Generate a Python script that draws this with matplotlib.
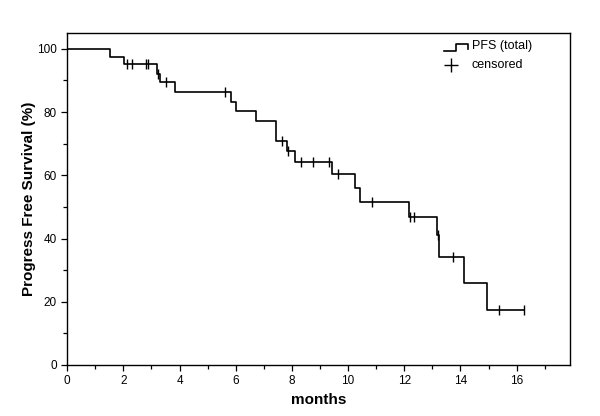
import numpy as np
import matplotlib.pyplot as plt
from matplotlib.ticker import MultipleLocator

plt.rcParams['font.family'] = ['Liberation Sans', 'DejaVu Sans']

# tiempos de evento (meses) y supervivencia despues del evento (%)
tiempos = [0, 1.53, 2.03, 3.21, 3.31, 3.83, 5.83, 6.01, 6.73, 7.43, 7.83, 8.12,
           9.43, 10.25, 10.43, 12.16, 13.16, 13.24, 14.14, 14.96]
supervivencia = [100, 97.4, 95.1, 92.0, 89.4, 86.4, 83.3, 80.2, 77.1, 70.9, 67.8, 64.3,
                 60.3, 56.1, 51.7, 46.9, 41.2, 34.3, 25.9, 17.4]
fin = 16.27

# censurados
censurados = [2.12, 2.30, 2.82, 2.89, 3.24, 3.52, 5.63, 7.63, 7.87, 8.33, 8.74, 9.33,
              9.63, 10.85, 12.19, 12.34, 13.19, 13.75, 15.36, 16.27]

t = np.array(tiempos + [fin])
s = np.array(supervivencia + [supervivencia[-1]])
idx = np.searchsorted(np.array(tiempos), censurados, side='right') - 1
s_cens = np.array(supervivencia)[idx]

fig = plt.figure(figsize=(6, 4.16), dpi=100)
ax = fig.add_axes([0.112, 0.1226, 0.838, 0.798])

ax.step(t, s, where='post', color='black', lw=1.2)
ax.plot(censurados, s_cens, ls='none', marker='|', ms=7, mew=1.0, color='black')

ax.set_xlim(0, 17.9)
ax.set_ylim(0, 105)
ax.xaxis.set_major_locator(MultipleLocator(2))
ax.xaxis.set_minor_locator(MultipleLocator(1))
ax.yaxis.set_major_locator(MultipleLocator(20))
ax.yaxis.set_minor_locator(MultipleLocator(10))
ax.tick_params(which='both', direction='out', labelsize=8.5, width=0.9)
ax.tick_params(which='major', length=4)
ax.tick_params(which='minor', length=3)
for sp in ax.spines.values():
    sp.set_linewidth(1.0)

ax.set_xlabel('months', fontsize=11, fontweight='bold', labelpad=4)
ax.set_ylabel('Progress Free Survival (%)', fontsize=11, fontweight='bold', labelpad=1)

# leyenda a mano
tr = ax.transAxes
lx = [0.75, 0.773, 0.773, 0.797, 0.797]
ly = [0.947, 0.947, 0.966, 0.966, 0.952]
ax.plot(lx, ly, color='black', lw=1.2, transform=tr, clip_on=False)
ax.text(0.805, 0.96, 'PFS (total)', transform=tr, fontsize=9, va='center')
ax.plot([0.763], [0.905], marker='+', ms=10, mew=1.0, color='black', transform=tr)
ax.text(0.805, 0.903, 'censored', transform=tr, fontsize=9, va='center')

fig.savefig('out.png', dpi=100)
